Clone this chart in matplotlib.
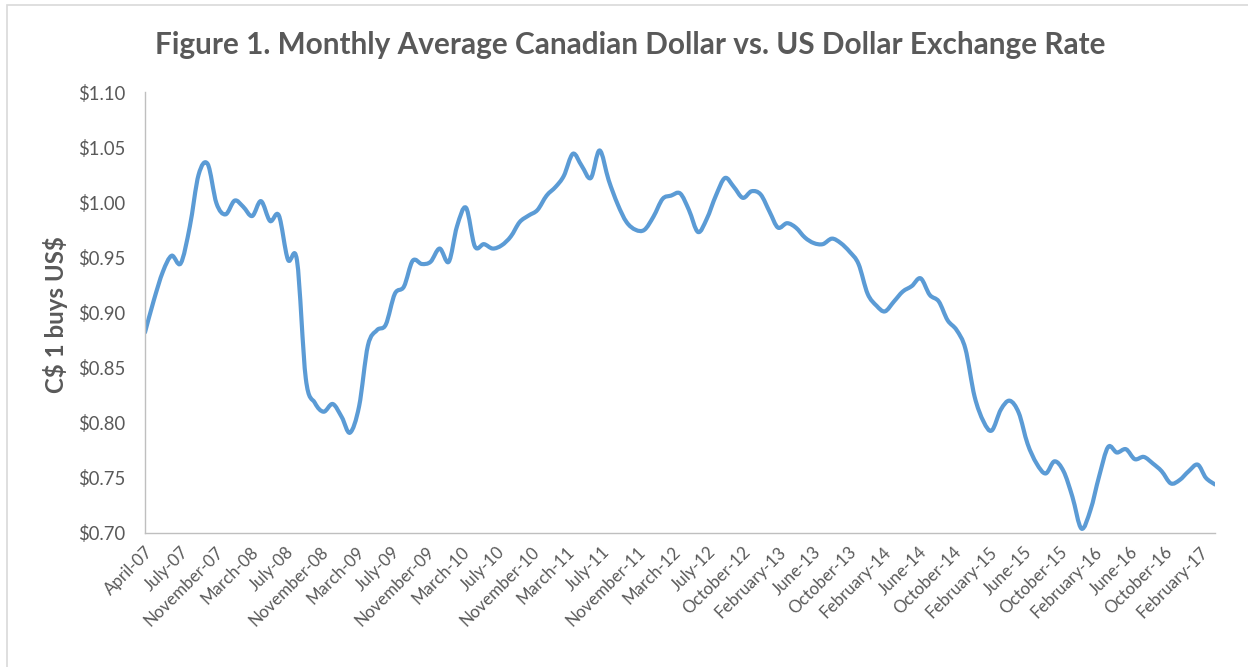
import numpy as np
import pandas as pd
import matplotlib
matplotlib.use("Agg")
import matplotlib.pyplot as plt
import matplotlib.dates as mdates
from matplotlib.path import Path
from matplotlib.patches import PathPatch, Rectangle

# ---------------- data ----------------
title = "Figure 1. Monthly Average Canadian Dollar vs. US Dollar Exchange Rate"
y_label = "C$ 1 buys US$"
start_month = "2007-04-01"
rates = [
    0.882, 0.911, 0.937, 0.9515, 0.9446, 0.978, 1.025, 1.0347, 0.999, 0.989,
    1.0015, 0.996, 0.9875, 1.001, 0.983, 0.988, 0.948, 0.947, 0.840, 0.818,
    0.810, 0.817, 0.805, 0.791, 0.815, 0.870, 0.884, 0.889, 0.917, 0.9235,
    0.947, 0.944, 0.946, 0.958, 0.946, 0.978, 0.995, 0.960, 0.962, 0.958,
    0.961, 0.969, 0.982, 0.988, 0.993, 1.006, 1.014, 1.024, 1.044, 1.033,
    1.022, 1.047, 1.020, 0.998, 0.982, 0.975, 0.975, 0.987, 1.003, 1.006,
    1.008, 0.993, 0.973, 0.985, 1.006, 1.022, 1.014, 1.004, 1.010, 1.007,
    0.991, 0.977, 0.981, 0.977, 0.968, 0.963, 0.962, 0.967, 0.963, 0.955,
    0.944, 0.917, 0.906, 0.901, 0.910, 0.919, 0.924, 0.931, 0.916, 0.910,
    0.893, 0.884, 0.867, 0.824, 0.801, 0.793, 0.812, 0.820, 0.809, 0.781,
    0.763, 0.754, 0.765, 0.756, 0.733, 0.704, 0.721, 0.751, 0.778, 0.773,
    0.776, 0.767, 0.769, 0.763, 0.756, 0.745, 0.748, 0.756, 0.762, 0.750,
    0.744,
]
tick_labels = [
    "April-07", "July-07", "November-07", "March-08", "July-08", "November-08",
    "March-09", "July-09", "November-09", "March-10", "July-10", "November-10",
    "March-11", "July-11", "November-11", "March-12", "July-12", "October-12",
    "February-13", "June-13", "October-13", "February-14", "June-14",
    "October-14", "February-15", "June-15", "October-15", "February-16",
    "June-16", "October-16", "February-17",
]
tick_step_days = 120
y_ticks = [0.70, 0.75, 0.80, 0.85, 0.90, 0.95, 1.00, 1.05, 1.10]

# ---------------- style ----------------
FONT = ["Lato", "DejaVu Sans"]
plt.rcParams["font.family"] = FONT
TXT = "#595959"
LINE = "#5B9BD5"
AX = "#BFBFBF"

W, H = 1248, 667
fig = plt.figure(figsize=(W / 100, H / 100), dpi=100)
fig.patch.set_facecolor("white")
L, R, T, B = 145, 1215, 92, 533
ax = fig.add_axes([L / W, 1 - B / H, (R - L) / W, (B - T) / H])

renderer = fig.canvas.get_renderer()


def fit_size(text, target_px, weight="normal", base=10, rotation=0, dim="w"):
    t = fig.text(0, 0, text, fontsize=base, weight=weight, rotation=rotation,
                 parse_math=False)
    bb = t.get_window_extent(renderer)
    t.remove()
    return base * target_px / (bb.width if dim == "w" else bb.height)


dates = pd.date_range(start_month, periods=len(rates), freq="MS")
xs = mdates.date2num(dates.to_pydatetime())
ys = np.asarray(rates, dtype=float)

# smoothed line (Excel-style Catmull-Rom Bezier through the data points)
P = np.column_stack([xs, ys])
Pext = np.vstack([P[0], P, P[-1]])
verts = [tuple(P[0])]
codes = [Path.MOVETO]
for i in range(len(P) - 1):
    p0, p1, p2, p3 = Pext[i], Pext[i + 1], Pext[i + 2], Pext[i + 3]
    c1 = p1 + (p2 - p0) / 6.0
    c2 = p2 - (p3 - p1) / 6.0
    verts += [tuple(c1), tuple(c2), tuple(p2)]
    codes += [Path.CURVE4] * 3
patch = PathPatch(Path(verts, codes), fill=False, edgecolor=LINE, lw=3.0,
                  capstyle="round", joinstyle="round", transform=ax.transData)
ax.add_patch(patch)

ax.set_xlim(xs[0], xs[-1])
ax.set_ylim(y_ticks[0], y_ticks[-1])

start_num = mdates.date2num(pd.Timestamp(start_month).to_pydatetime())
tick_pos = [start_num + k * tick_step_days for k in range(len(tick_labels))]
ax.set_xticks(tick_pos)
xt_size = fit_size("February-17", 76, rotation=45)
ax.set_xticklabels(tick_labels, rotation=45, ha="right", va="top",
                   rotation_mode="anchor", fontsize=xt_size, color=TXT)
ax.set_yticks(y_ticks)
yt_size = fit_size("$0.70", 47)
ax.set_yticklabels([f"${v:.2f}" for v in y_ticks], fontsize=yt_size, color=TXT)
ax.tick_params(axis="x", length=0, pad=8)
ax.tick_params(axis="y", length=0, pad=14)

for s in ["top", "right"]:
    ax.spines[s].set_visible(False)
for s in ["left", "bottom"]:
    ax.spines[s].set_color(AX)
    ax.spines[s].set_linewidth(1.0)

yl_size = fit_size(y_label, 156, weight="bold")
fig.text(55 / W, 1 - 315 / H, y_label, rotation=90, ha="center", va="center",
         fontsize=yl_size, weight="bold", color=TXT, parse_math=False)

ti_size = fit_size(title, 952, weight="bold")
fig.text(630 / W, 1 - 45 / H, title, ha="center", va="center",
         fontsize=ti_size, weight="bold", color=TXT, parse_math=False)

# chart-area border
fig.patches.append(Rectangle((7 / W, -0.05), 1.1, 1 - 5 / H + 0.05,
                             transform=fig.transFigure, fill=False,
                             edgecolor="#D9D9D9", lw=1.2))

fig.savefig("out.png", dpi=100)
